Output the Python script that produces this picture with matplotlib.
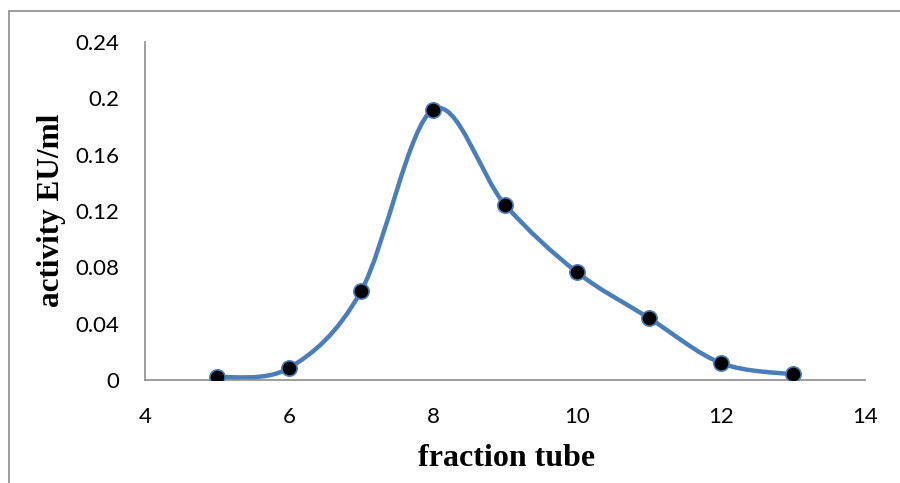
import numpy as np
import matplotlib
matplotlib.use("Agg")
import matplotlib.pyplot as plt
from matplotlib.path import Path
from matplotlib.patches import PathPatch, Rectangle

fraction = [5, 6, 7, 8, 9, 10, 11, 12, 13]
activity = [0.002, 0.0085, 0.063, 0.192, 0.1245, 0.0765, 0.044, 0.012, 0.004]
xticks = [4, 6, 8, 10, 12, 14]
yticks = [0, 0.04, 0.08, 0.12, 0.16, 0.2, 0.24]
ytick_labels = ["0", "0.04", "0.08", "0.12", "0.16", "0.2", "0.24"]

fig = plt.figure(figsize=(9, 4.83), dpi=100)
ax = fig.add_axes([145/900, 1-380/483, 720/900, 338/483])

# Excel-like smoothed line (Catmull-Rom Bezier)
x = np.array(fraction, float)
y = np.array(activity, float)
n = len(x)
verts = [(x[0], y[0])]
codes = [Path.MOVETO]
for i in range(n - 1):
    p0 = np.array([x[max(i-1, 0)], y[max(i-1, 0)]])
    p1 = np.array([x[i], y[i]])
    p2 = np.array([x[i+1], y[i+1]])
    p3 = np.array([x[min(i+2, n-1)], y[min(i+2, n-1)]])
    c1 = p1 + (p2 - p0) / 6
    c2 = p2 - (p3 - p1) / 6
    verts += [tuple(c1), tuple(c2), tuple(p2)]
    codes += [Path.CURVE4] * 3
ax.add_patch(PathPatch(Path(verts, codes), facecolor="none", edgecolor="#4a7ebb",
                       lw=3.2, capstyle="round", joinstyle="round", zorder=2))
ax.plot(fraction, activity, linestyle="none", marker="o", markersize=11,
        markerfacecolor="black", markeredgecolor="#4a7ebb", markeredgewidth=1.2, zorder=3)

ax.set_xlim(4, 14)
ax.set_ylim(0, 0.24)
ax.set_xticks(xticks)
ax.set_yticks(yticks)
ax.set_yticklabels(ytick_labels)
for s in ["top", "right"]:
    ax.spines[s].set_visible(False)
for s in ["left", "bottom"]:
    ax.spines[s].set_color("#8c8c8c")
    ax.spines[s].set_linewidth(1.2)
ax.tick_params(axis="both", length=0, labelsize=16, colors="black")
ax.tick_params(axis="x", pad=19.5)
ax.tick_params(axis="y", pad=18.5)
for lbl in ax.get_xticklabels() + ax.get_yticklabels():
    lbl.set_fontfamily("Lato")

fig.text(52/900, 1-210/483, "activity EU/ml", rotation=90, ha="center", va="center",
         fontsize=22.5, fontweight="bold", family="Liberation Serif")
fig.text(507/900, 1-459/483, "fraction tube", ha="center", va="center",
         fontsize=23, fontweight="bold", family="Liberation Serif")

fig.patches.append(Rectangle((9/900, -0.1), 1.2, 1-11/483+0.1, transform=fig.transFigure,
                             fill=False, edgecolor="#8c8c8c", lw=1.2))

fig.savefig("out.png", dpi=100)
